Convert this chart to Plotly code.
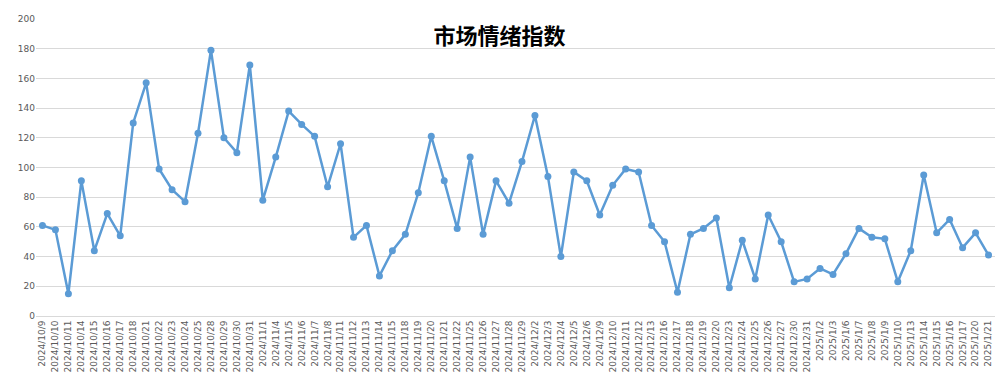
import plotly.graph_objects as go

dates = [
    "2024/10/9", "2024/10/10", "2024/10/11", "2024/10/14", "2024/10/15", "2024/10/16", "2024/10/17", "2024/10/18",
    "2024/10/21", "2024/10/22", "2024/10/23", "2024/10/24", "2024/10/25", "2024/10/28", "2024/10/29", "2024/10/30",
    "2024/10/31", "2024/11/1", "2024/11/4", "2024/11/5", "2024/11/6", "2024/11/7", "2024/11/8", "2024/11/11",
    "2024/11/12", "2024/11/13", "2024/11/14", "2024/11/15", "2024/11/18", "2024/11/19", "2024/11/20", "2024/11/21",
    "2024/11/22", "2024/11/25", "2024/11/26", "2024/11/27", "2024/11/28", "2024/11/29", "2024/12/2", "2024/12/3",
    "2024/12/4", "2024/12/5", "2024/12/6", "2024/12/9", "2024/12/10", "2024/12/11", "2024/12/12", "2024/12/13",
    "2024/12/16", "2024/12/17", "2024/12/18", "2024/12/19", "2024/12/20", "2024/12/23", "2024/12/24", "2024/12/25",
    "2024/12/26", "2024/12/27", "2024/12/30", "2024/12/31", "2025/1/2", "2025/1/3", "2025/1/6", "2025/1/7",
    "2025/1/8", "2025/1/9", "2025/1/10", "2025/1/13", "2025/1/14", "2025/1/15", "2025/1/16", "2025/1/17",
    "2025/1/20", "2025/1/21",
]

sentiment = [
    61, 58, 15, 91, 44, 69, 54, 130,
    157, 99, 85, 77, 123, 179, 120, 110,
    169, 78, 107, 138, 129, 121, 87, 116,
    53, 61, 27, 44, 55, 83, 121, 91,
    59, 107, 55, 91, 76, 104, 135, 94,
    40, 97, 91, 68, 88, 99, 97, 61,
    50, 16, 55, 59, 66, 19, 51, 25,
    68, 50, 23, 25, 32, 28, 42, 59,
    53, 52, 23, 44, 95, 56, 65, 46,
    56, 41,
]

y_ticks = list(range(0, 201, 20))

fig = go.Figure(
    go.Scatter(
        x=dates,
        y=sentiment,
        mode="lines+markers",
        line=dict(color="#5b9bd5", width=2.5),
        marker=dict(color="#5b9bd5", size=7),
        showlegend=False,
    )
)

fig.update_layout(
    width=1005,
    height=382,
    margin=dict(l=36, r=10, t=19, b=63),
    paper_bgcolor="white",
    plot_bgcolor="white",
    title=dict(
        text="<b>市场情绪指数</b>",
        x=0.497,
        xanchor="center",
        y=0.905,
        yanchor="middle",
        font=dict(family="Noto Sans CJK SC", size=22, color="#000000"),
    ),
    xaxis=dict(
        type="category",
        tickangle=-90,
        tickfont=dict(family="DejaVu Sans", size=9, color="#595959"),
        showgrid=False,
        showline=True,
        linecolor="#d9d9d9",
        ticks="",
        range=[-0.5, len(dates) - 0.5],
    ),
    yaxis=dict(
        range=[0, 200],
        tickvals=y_ticks,
        tickfont=dict(family="DejaVu Sans", size=9, color="#595959"),
        showgrid=True,
        gridcolor="#d9d9d9",
        gridwidth=1,
        zeroline=False,
        showline=False,
        ticks="",
    ),
)

fig.write_html("out.html")
